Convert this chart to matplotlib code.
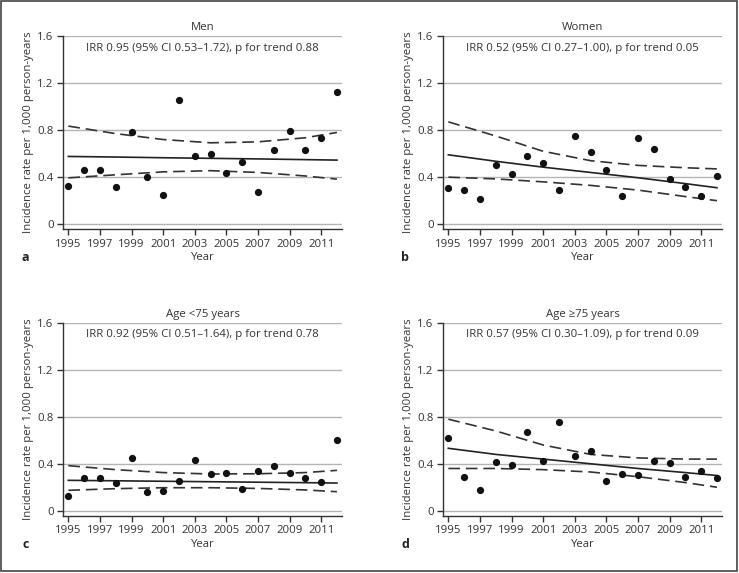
import numpy as np
import matplotlib
matplotlib.use("Agg")
import matplotlib.pyplot as plt
from matplotlib.patches import Rectangle

plt.rcParams['font.family'] = ['Open Sans', 'DejaVu Sans']

years = list(range(1995, 2013))
men = [0.326, 0.462, 0.462, 0.315, 0.783, 0.40, 0.247, 1.055, 0.582, 0.593,
       0.434, 0.533, 0.275, 0.627, 0.789, 0.627, 0.735, 1.123]
women = [0.309, 0.289, 0.216, 0.505, 0.431, 0.584, 0.519, 0.295, 0.752, 0.613,
         0.465, 0.238, 0.729, 0.638, 0.386, 0.315, 0.241, 0.411]
young = [0.122, 0.276, 0.276, 0.236, 0.447, 0.162, 0.165, 0.253, 0.436, 0.310,
         0.319, 0.185, 0.336, 0.379, 0.322, 0.282, 0.242, 0.604]
old = [0.618, 0.285, 0.179, 0.418, 0.39, 0.672, 0.427, 0.752, 0.467, 0.513,
       0.251, 0.31, 0.307, 0.421, 0.41, 0.285, 0.336, 0.276]

# fitted trend and 95% CI read at a few years
fit_years = [1995, 1998, 2001, 2004, 2007, 2010, 2012]
men_fit = [0.576, 0.571, 0.565, 0.560, 0.555, 0.549, 0.545]
men_up = [0.834, 0.77, 0.72, 0.692, 0.70, 0.735, 0.78]
men_lo = [0.394, 0.42, 0.445, 0.455, 0.44, 0.41, 0.383]
women_fit = [0.59, 0.535, 0.485, 0.44, 0.395, 0.345, 0.31]
women_up = [0.87, 0.75, 0.62, 0.54, 0.50, 0.48, 0.47]
women_lo = [0.40, 0.385, 0.36, 0.33, 0.29, 0.235, 0.20]
young_fit = [0.259, 0.255, 0.251, 0.247, 0.243, 0.239, 0.236]
young_up = [0.384, 0.35, 0.325, 0.313, 0.315, 0.325, 0.344]
young_lo = [0.174, 0.188, 0.196, 0.196, 0.19, 0.177, 0.162]
old_fit = [0.532, 0.48, 0.44, 0.40, 0.36, 0.325, 0.30]
old_up = [0.78, 0.68, 0.56, 0.48, 0.45, 0.44, 0.44]
old_lo = [0.36, 0.36, 0.35, 0.33, 0.29, 0.24, 0.20]

titles = ['Men', 'Women', 'Age <75 years', 'Age \u226575 years']
notes = ['IRR 0.95 (95% CI 0.53\u20131.72), p for trend 0.88',
         'IRR 0.52 (95% CI 0.27\u20131.00), p for trend 0.05',
         'IRR 0.92 (95% CI 0.51\u20131.64), p for trend 0.78',
         'IRR 0.57 (95% CI 0.30\u20131.09), p for trend 0.09']
letters = ['a', 'b', 'c', 'd']
series = [(men, men_fit, men_up, men_lo),
          (women, women_fit, women_up, women_lo),
          (young, young_fit, young_up, young_lo),
          (old, old_fit, old_up, old_lo)]

W, H = 739, 573
fig = plt.figure(figsize=(W / 100, H / 100), dpi=100)
fig.patches.append(Rectangle((1 / W, 2 / H), (W - 3) / W, (H - 3) / H,
                             transform=fig.transFigure, fill=False,
                             edgecolor='#444444', lw=1.2))

txt = '#333333'
# axes boxes in pixels: left, right, top, bottom
boxes = [(63.3, 341.7, 36, 229), (443.3, 721.7, 36, 229),
         (63.3, 341.7, 323, 515.5), (443.3, 721.7, 323, 515.5)]

for i, (l, r, t, b) in enumerate(boxes):
    ax = fig.add_axes([l / W, 1 - b / H, (r - l) / W, (b - t) / H])
    obs, fit, up, lo = series[i]
    ax.set_xlim(1994.68, 2012.3)
    ax.set_ylim(-0.017 * 2.4, 1.6)
    for g in [0, 0.4, 0.8, 1.2, 1.6]:
        ax.axhline(g, color='#b4b4b4', lw=1.0, zorder=0)
    ax.plot(fit_years, fit, color='#222222', lw=1.2)
    ax.plot(fit_years, up, color='#333333', lw=1.2, dashes=(7, 3.5))
    ax.plot(fit_years, lo, color='#333333', lw=1.2, dashes=(7, 3.5))
    ax.plot(years, obs, 'o', color='#111111', ms=4.2, clip_on=False)

    for s in ['top', 'right']:
        ax.spines[s].set_visible(False)
    for s in ['left', 'bottom']:
        ax.spines[s].set_color('#333333')
        ax.spines[s].set_linewidth(1.0)
    ax.set_xticks(range(1995, 2012, 2))
    ax.set_yticks([0, 0.4, 0.8, 1.2, 1.6])
    ax.set_yticklabels(['0', '0.4', '0.8', '1.2', '1.6'])
    ax.tick_params(colors='#333333', labelcolor=txt, labelsize=8.2,
                   length=4, width=1.0, pad=3)
    ax.patch.set_alpha(0)

    cx = (l + r) / 2
    fig.text(cx / W, 1 - (t - 8) / H, titles[i], ha='center', va='center',
             fontsize=8.2, color=txt)
    ax.text(0.5, 1 - 12 / (b - t), notes[i], transform=ax.transAxes,
            ha='center', va='center', fontsize=8.2, color=txt)
    fig.text(cx / W, 1 - (b + 29) / H, 'Year', ha='center', va='center',
             fontsize=8.2, color=txt)
    fig.text((l - 38) / W, 1 - (b + 29) / H, letters[i], ha='center',
             va='center', fontsize=9, fontweight='bold', color='#222222')
    fig.text((l - 35) / W, 1 - ((t + b) / 2) / H,
             'Incidence rate per 1,000 person-years', rotation=90,
             ha='center', va='center', fontsize=8.2, color=txt)

fig.savefig('out.png', dpi=100)
